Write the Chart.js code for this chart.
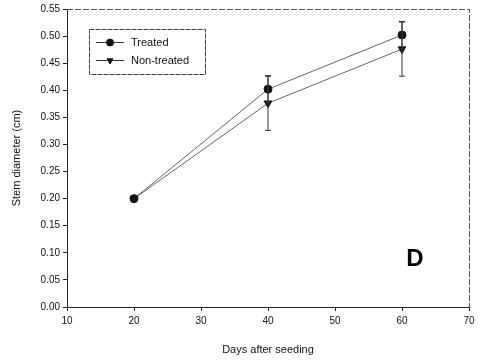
<!DOCTYPE html>
<html>
<head>
<meta charset="utf-8">
<script src="https://cdn.jsdelivr.net/npm/chart.js@4.4.0/dist/chart.umd.min.js"></script>
<style>
  html, body { margin: 0; padding: 0; background: #fff; }
  #wrap { width: 482px; height: 361px; }
</style>
</head>
<body>
<div id="wrap"><canvas id="chart" width="482" height="361"></canvas></div>
<script>
const days = [20, 40, 60];
const treated = [0.20, 0.402, 0.502];
const treatedErr = [0, 0.025, 0.025];
const nonTreated = [0.20, 0.376, 0.476];
const nonTreatedErr = [0, 0.05, 0.05];
const xTicks = [10, 20, 30, 40, 50, 60, 70];
const yMax = 0.55;

const FONT = 'Liberation Sans, Arial, sans-serif';

// error bars, drawn through the scales
const errorBars = {
  id: 'errorBars',
  afterDatasetsDraw(chart) {
    const ctx = chart.ctx;
    const xs = chart.scales.x, ys = chart.scales.y;
    const sets = [[treated, treatedErr], [nonTreated, nonTreatedErr]];
    ctx.save();
    ctx.strokeStyle = '#333';
    ctx.lineWidth = 1;
    sets.forEach(([vals, errs]) => {
      vals.forEach((v, i) => {
        if (!errs[i]) return;
        const x = xs.getPixelForValue(days[i]);
        const y1 = ys.getPixelForValue(v + errs[i]);
        const y2 = ys.getPixelForValue(v - errs[i]);
        ctx.beginPath();
        ctx.moveTo(x, y1); ctx.lineTo(x, y2);
        ctx.moveTo(x - 3, y1); ctx.lineTo(x + 3, y1);
        ctx.moveTo(x - 3, y2); ctx.lineTo(x + 3, y2);
        ctx.stroke();
      });
    });
    ctx.restore();
  }
};

// frame, legend box and panel letter
const extras = {
  id: 'extras',
  afterDraw(chart) {
    const ctx = chart.ctx;
    const a = chart.chartArea;
    ctx.save();
    // top + right frame
    ctx.strokeStyle = '#555';
    ctx.lineWidth = 1;
    ctx.setLineDash([6, 2]);
    ctx.beginPath();
    ctx.moveTo(a.left, a.top + 0.5); ctx.lineTo(a.right + 0.5, a.top + 0.5); ctx.lineTo(a.right + 0.5, a.bottom);
    ctx.stroke();

    // legend
    const bx = 89, by = 29, bw = 116, bh = 45;
    ctx.strokeStyle = '#444';
    ctx.setLineDash([5, 1]);
    ctx.strokeRect(bx + 0.5, by + 0.5, bw, bh);
    ctx.setLineDash([]);
    const rows = [
      { label: 'Treated', y: 42, style: 'circle', rot: 0 },
      { label: 'Non-treated', y: 60, style: 'triangle', rot: 180 }
    ];
    rows.forEach(r => {
      ctx.strokeStyle = '#333';
      ctx.beginPath();
      ctx.moveTo(96, r.y + 0.5); ctx.lineTo(124, r.y + 0.5);
      ctx.stroke();
      ctx.fillStyle = '#111';
      Chart.helpers.drawPoint(ctx, { pointStyle: r.style, radius: 3.5, rotation: r.rot, borderWidth: 1 }, 110, r.y + 0.5);
      ctx.fill();
      ctx.fillStyle = '#111';
      ctx.font = '11px ' + FONT;
      ctx.textBaseline = 'middle';
      ctx.textAlign = 'left';
      ctx.fillText(r.label, 131, r.y + 1);
    });

    // panel letter
    ctx.font = 'bold 24px ' + FONT;
    ctx.fillStyle = '#000';
    ctx.textAlign = 'center';
    ctx.textBaseline = 'middle';
    ctx.fillText('D', 415, 259);
    ctx.restore();
  }
};

new Chart(document.getElementById('chart').getContext('2d'), {
  type: 'line',
  data: {
    datasets: [
      {
        label: 'Treated',
        data: days.map((d, i) => ({ x: d, y: treated[i] })),
        borderColor: '#666',
        borderWidth: 1,
        backgroundColor: '#111',
        pointBackgroundColor: '#111',
        pointBorderColor: '#111',
        pointStyle: 'circle',
        pointRadius: 4,
        tension: 0
      },
      {
        label: 'Non-treated',
        data: days.map((d, i) => ({ x: d, y: nonTreated[i] })),
        borderColor: '#666',
        borderWidth: 1,
        backgroundColor: '#111',
        pointBackgroundColor: '#111',
        pointBorderColor: '#111',
        pointStyle: 'triangle',
        pointRotation: 180,
        pointRadius: 4.5,
        tension: 0
      }
    ]
  },
  options: {
    responsive: false,
    animation: false,
    layout: { padding: { top: 9, right: 13, left: 0, bottom: 0 } },
    plugins: {
      legend: { display: false },
      tooltip: { enabled: false }
    },
    scales: {
      x: {
        type: 'linear',
        min: 10,
        max: 70,
        afterBuildTicks: s => { s.ticks = xTicks.map(v => ({ value: v })); },
        grid: { display: true, drawOnChartArea: false, drawTicks: true, tickLength: 4, color: '#222' },
        border: { display: true, color: '#222', width: 1 },
        ticks: { color: '#111', font: { family: FONT, size: 10 }, padding: 4, maxRotation: 0 },
        title: { display: true, text: 'Days after seeding', color: '#111', font: { family: FONT, size: 11 }, padding: { top: 9, bottom: 4 } },
        afterFit: s => { s.height = 54; }
      },
      y: {
        min: 0,
        max: yMax,
        ticks: {
          stepSize: 0.05,
          color: '#111',
          font: { family: FONT, size: 10 },
          padding: 3,
          callback: v => v.toFixed(2)
        },
        grid: { display: true, drawOnChartArea: false, drawTicks: true, tickLength: 4, color: '#222' },
        border: { display: true, color: '#222', width: 1 },
        title: { display: true, text: 'Stem diameter (cm)', color: '#111', font: { family: FONT, size: 11 }, padding: { top: 10, bottom: 0 } },
        afterFit: s => { s.width = 67; }
      }
    }
  },
  plugins: [errorBars, extras]
});
</script>
</body>
</html>
